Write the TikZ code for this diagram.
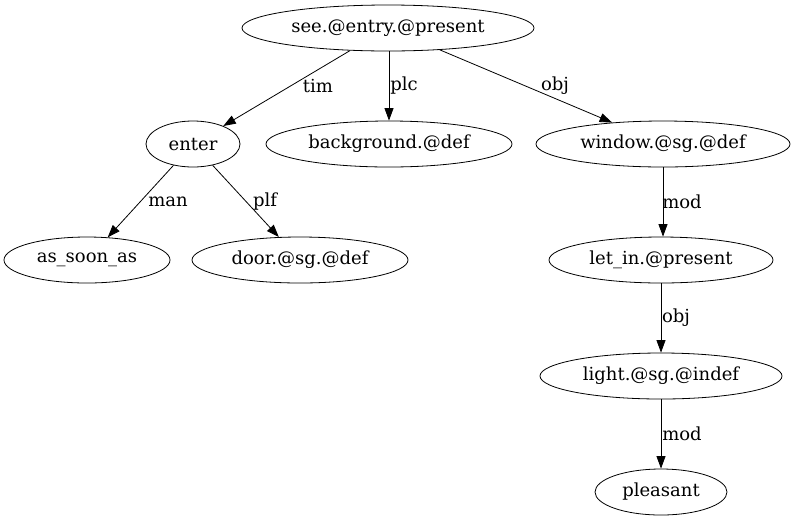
\documentclass[tikz,border=0pt]{standalone}
\usepackage{fontspec}
\setmainfont{DejaVu Serif}
\usetikzlibrary{shapes.geometric,arrows.meta}
\tikzset{
  gnode/.style={draw, ellipse, inner sep=0pt, minimum height=46pt, font=\fontsize{18pt}{20pt}\selectfont, line width=0.8pt},
  elabel/.style={font=\fontsize{18pt}{20pt}\selectfont, inner sep=0pt},
  edge/.style={line width=0.8pt, -{Triangle[length=12.5pt,width=9pt]}}
}
\begin{document}
\begin{tikzpicture}[x=1pt,y=-1pt]
\useasboundingbox (0,0) rectangle (794,523);
\node[gnode, minimum width=292pt] (see) at (388,28) {see.@entry.@present};
\node[gnode, minimum width=94pt] (enter) at (193,144) {enter};
\node[gnode, minimum width=246pt] (bg) at (389,144) {background.@def};
\node[gnode, minimum width=254pt] (win) at (663,144) {window.@sg.@def};
\node[gnode, minimum width=166pt] (asa) at (87,260) {as\_soon\_as};
\node[gnode, minimum width=216pt] (door) at (300,260) {door.@sg.@def};
\node[gnode, minimum width=224pt] (letin) at (661,260) {let\_in.@present};
\node[gnode, minimum width=242pt] (light) at (661,376) {light.@sg.@indef};
\node[gnode, minimum width=132pt] (pleasant) at (661,492) {pleasant};

\draw[edge] (see) -- (enter);
\draw[edge] (see.south -| bg) -- (bg);
\draw[edge] (see) -- (win);
\draw[edge] (enter) -- (asa);
\draw[edge] (enter) -- (door);
\draw[edge] (win) -- (win |- letin.north);
\draw[edge] (letin) -- (light);
\draw[edge] (light) -- (pleasant);

\node[elabel] (l1) at (318,86) {tim};
\node[elabel] (l2) at (404,86) {plc};
\node[elabel] (l3) at (555,86) {obj};
\node[elabel] (l4) at (168,202) {man};
\node[elabel] (l5) at (265,202) {plf};
\node[elabel] (l6) at (682,202) {mod};
\node[elabel] (l7) at (676,318) {obj};
\node[elabel] (l8) at (682,434) {mod};
\end{tikzpicture}
\end{document}
